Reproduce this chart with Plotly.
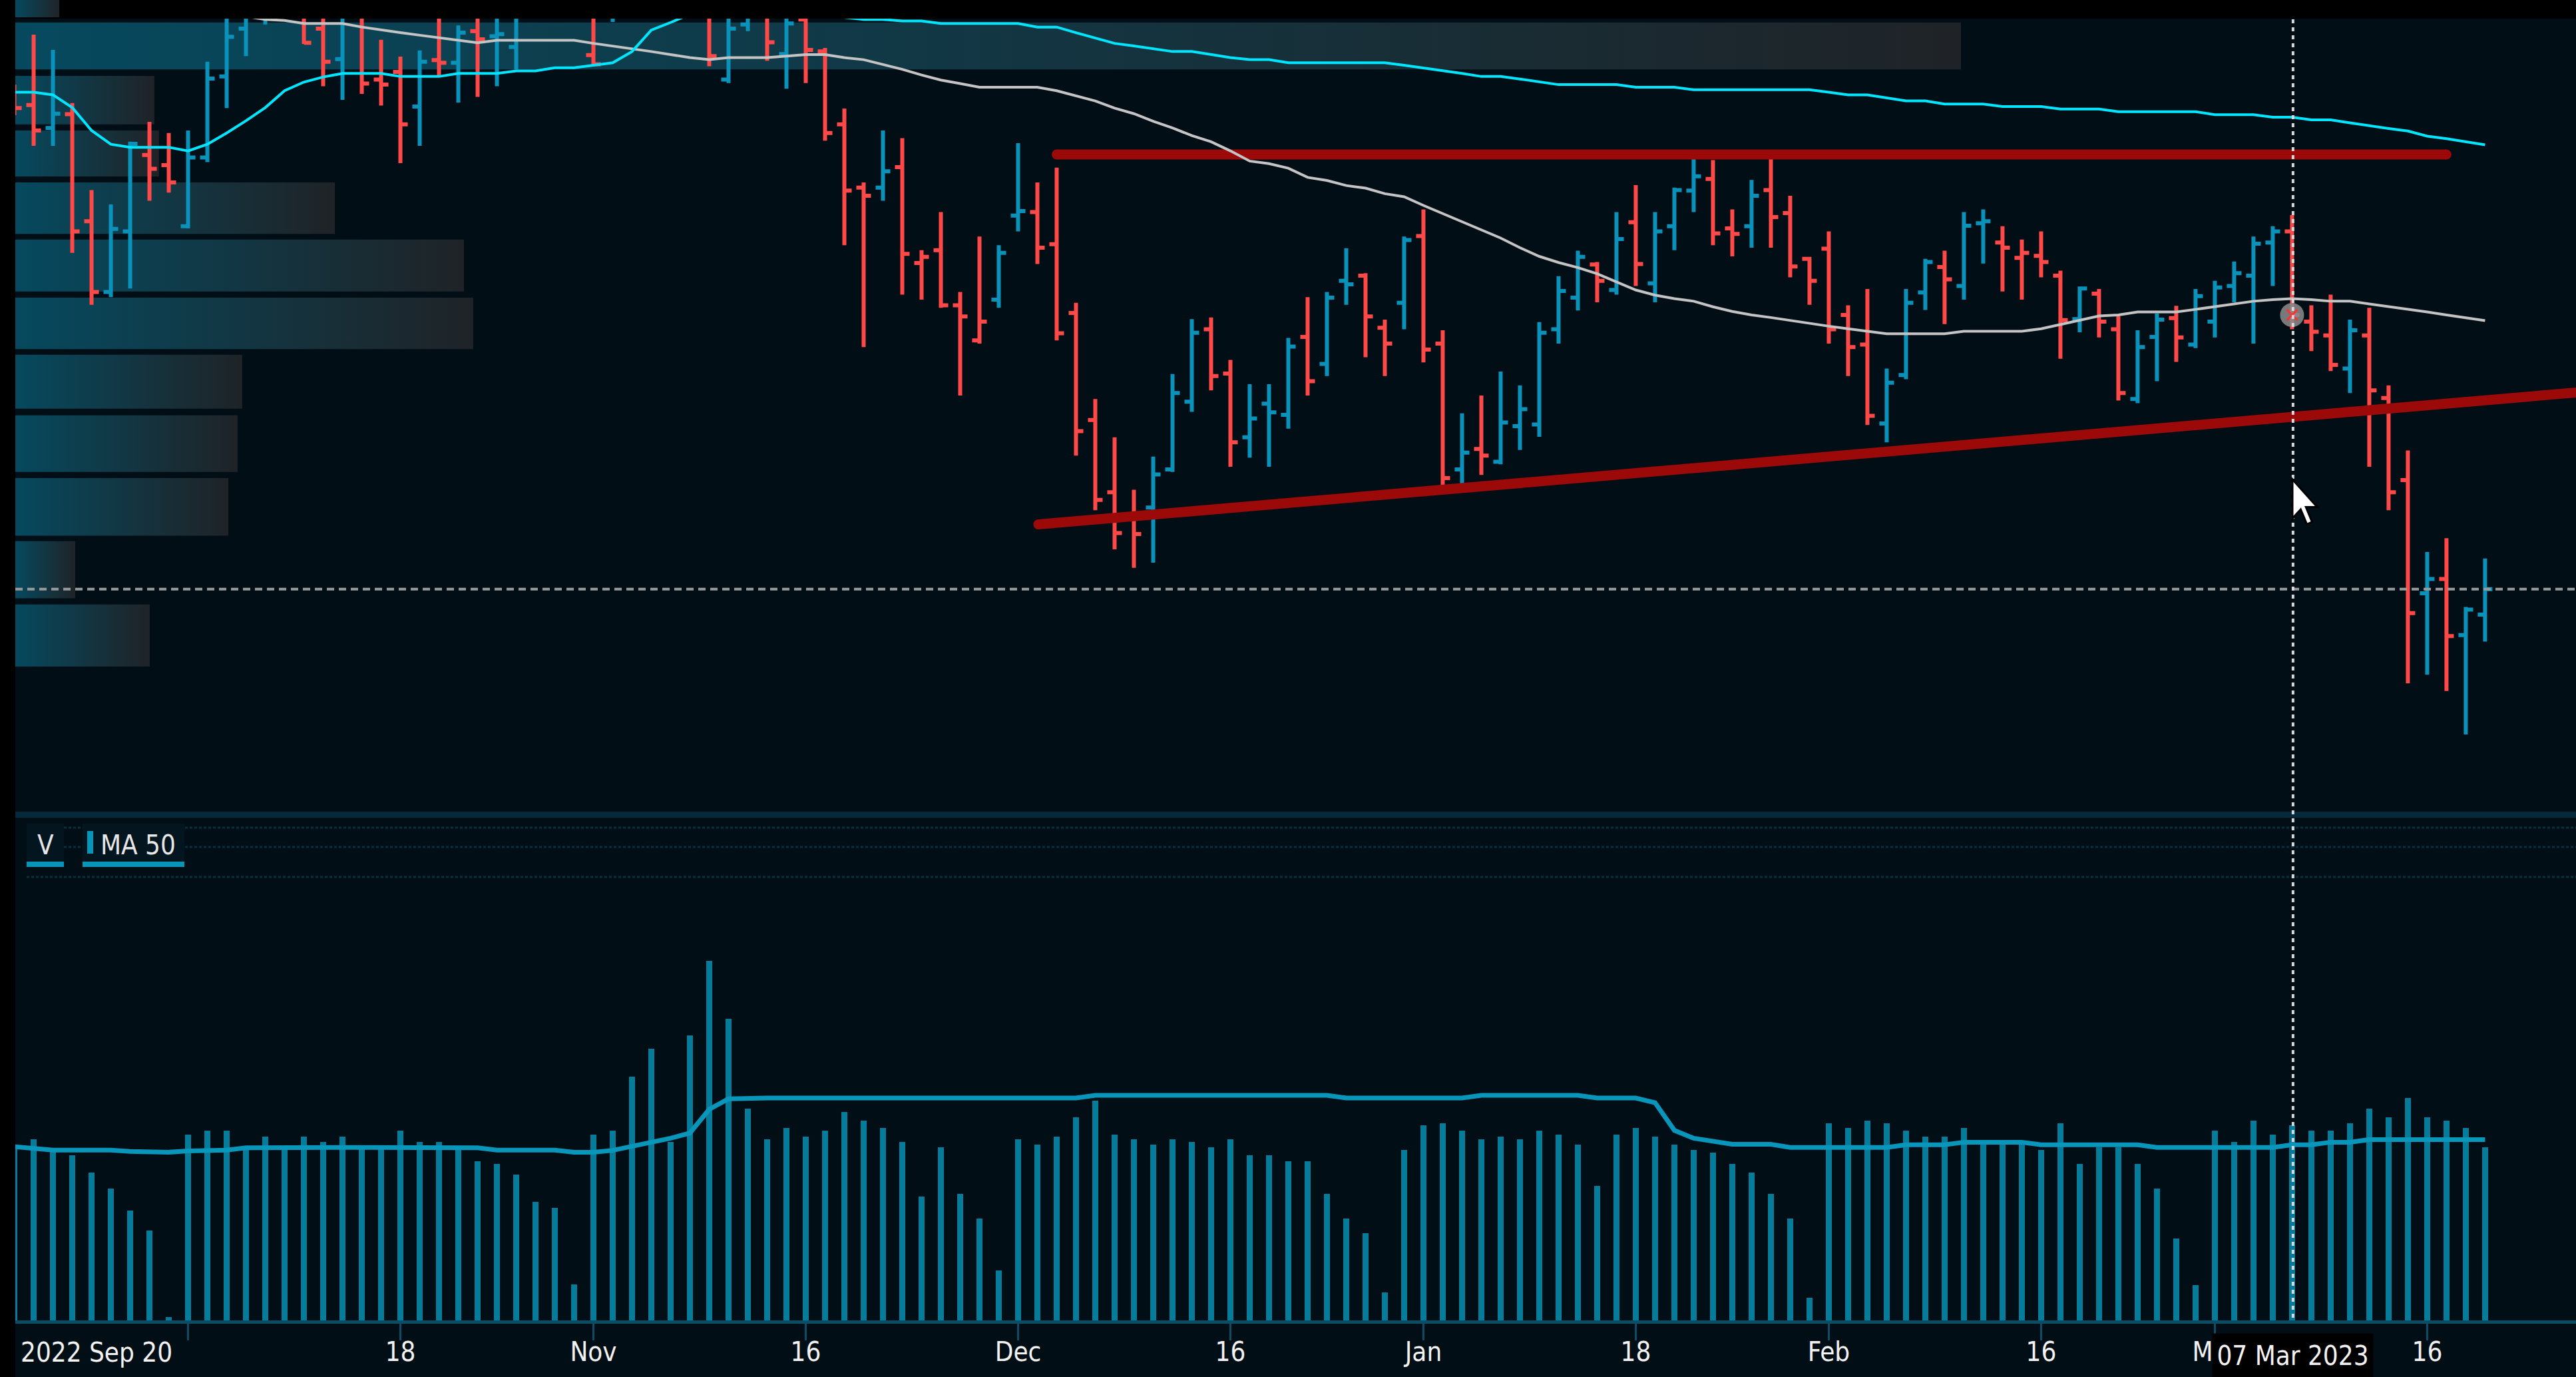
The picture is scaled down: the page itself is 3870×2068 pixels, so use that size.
import plotly.graph_objects as go

# ---------------- data ----------------
bar_idx = list(range(-1, 128))  # trading-day index, 0 = first full bar on screen

opens = [143.0, 142.0, 137.5, 140.2, 119.2, 105.3, 117.2, 132.2, 130.2, 118.2,
         131.7, 147.6, 157.0, 163.0, 167.0, 164.0, 157.0, 151.0, 161.0, 147.0,
         148.5, 141.7, 150.8, 150.3, 156.5, 155.5, 153.4, 162.0, 166.0, 165.0,
         151.8, 162.0, 164.0, 167.0, 169.0, 166.0, 162.0, 147.0, 157.8, 162.0,
         152.0, 158.8, 152.5, 138.2, 125.8, 125.8, 129.8, 111.0, 113.5, 102.7,
         95.8, 103.8, 120.3, 121.0, 114.7, 101.2, 80.2, 66.0, 61.2, 63.0,
         70.5, 83.8, 98.0, 89.3, 76.8, 83.4, 81.2, 96.5, 91.2, 107.5,
         108.5, 98.3, 103.2, 116.3, 95.2, 70.5, 74.5, 72.0, 79.0, 79.3,
         98.0, 104.2, 110.7, 105.7, 119.0, 107.0, 118.2, 125.2, 127.5, 117.8,
         118.2, 125.3, 120.8, 111.8, 113.8, 100.8, 95.0, 79.5, 89.0, 105.2,
         110.2, 106.5, 118.8, 115.0, 112.0, 112.4, 108.5, 100.0, 105.0, 98.0,
         84.3, 96.5, 100.2, 95.0, 99.5, 106.5, 108.5, 115.0, 117.2, 99.5,
         96.8, 90.3, 96.8, 84.5, 68.4, 46.2, 49.0, 38.0, 42.0]
highs = [146.0, 155.8, 152.8, 142.4, 125.3, 122.5, 134.8, 138.7, 136.5, 137.0,
         150.5, 159.0, 164.0, 168.0, 171.0, 167.0, 162.0, 163.0, 164.0, 154.8,
         151.5, 152.7, 162.0, 157.6, 162.0, 162.5, 164.0, 169.0, 170.0, 169.0,
         163.0, 166.0, 169.0, 171.0, 172.0, 170.0, 166.0, 164.0, 165.0, 165.0,
         163.0, 162.0, 153.2, 141.3, 126.8, 137.0, 135.5, 113.5, 121.0, 105.3,
         116.2, 114.5, 134.5, 126.8, 129.7, 103.2, 84.3, 76.8, 66.5, 73.0,
         89.2, 100.0, 100.3, 92.0, 87.2, 87.2, 96.3, 104.3, 105.3, 113.9,
         109.0, 99.9, 116.2, 121.5, 97.8, 81.5, 85.0, 89.7, 87.0, 99.4,
         108.4, 113.4, 111.2, 121.0, 126.3, 121.0, 125.8, 132.8, 131.2, 121.5,
         127.3, 132.2, 124.2, 112.2, 117.2, 102.7, 105.9, 90.3, 105.9, 111.8,
         113.4, 121.0, 121.5, 118.2, 115.6, 117.2, 109.5, 106.4, 105.9, 100.6,
         97.8, 101.1, 102.6, 105.9, 107.5, 111.3, 116.2, 118.2, 120.4, 102.7,
         104.8, 99.9, 102.2, 87.0, 74.2, 54.3, 57.0, 43.5, 53.0]
lows = [140.0, 134.0, 134.0, 113.0, 102.8, 104.3, 106.0, 123.2, 124.8, 117.8,
        130.8, 141.4, 151.6, 157.8, 162.0, 154.0, 145.7, 143.0, 144.2, 141.9,
        130.6, 134.0, 147.6, 142.5, 143.6, 145.7, 149.0, 160.5, 163.0, 161.5,
        149.6, 158.3, 160.5, 163.0, 164.0, 161.5, 149.6, 146.3, 156.5, 150.7,
        145.2, 146.3, 135.0, 114.5, 94.5, 123.2, 104.8, 103.8, 102.2, 85.0,
        95.2, 102.2, 117.2, 110.8, 95.8, 73.2, 62.5, 54.8, 51.2, 52.2,
        70.0, 81.8, 86.0, 71.0, 72.8, 71.0, 78.5, 85.0, 88.8, 102.8,
        92.5, 88.8, 98.0, 91.5, 67.2, 66.8, 69.4, 71.5, 74.3, 76.9,
        95.2, 101.7, 103.3, 104.8, 106.5, 103.3, 113.5, 121.0, 114.5, 112.3,
        114.0, 114.0, 108.2, 102.8, 95.2, 88.8, 79.2, 75.8, 88.2, 101.8,
        99.0, 103.8, 110.9, 105.4, 103.8, 108.2, 92.2, 97.4, 96.4, 84.0,
        83.5, 87.8, 91.6, 94.3, 96.4, 103.3, 95.2, 106.5, 98.0, 93.7,
        89.8, 85.5, 71.0, 62.5, 28.5, 30.2, 27.0, 18.5, 36.7]
closes = [141.4, 137.0, 140.3, 117.2, 105.3, 117.7, 134.4, 129.5, 126.8, 131.7,
          147.2, 155.4, 161.0, 166.0, 165.0, 154.2, 150.5, 159.5, 146.2, 146.0,
          138.2, 150.5, 150.3, 156.2, 154.9, 155.9, 160.0, 166.0, 165.0, 164.0,
          150.0, 164.0, 167.0, 169.0, 166.0, 163.0, 151.6, 157.0, 161.0, 154.3,
          158.0, 152.8, 136.5, 125.2, 124.2, 129.0, 112.8, 112.2, 102.7, 100.5,
          99.5, 113.0, 121.2, 114.0, 97.2, 78.0, 64.5, 58.0, 57.8, 69.5,
          85.5, 97.3, 88.8, 75.8, 80.5, 81.7, 94.6, 87.8, 104.2, 106.8,
          100.5, 95.2, 115.5, 94.0, 68.8, 73.8, 73.2, 79.7, 82.3, 97.3,
          105.5, 112.2, 107.5, 115.7, 110.8, 117.2, 125.3, 128.0, 116.8, 116.7,
          124.2, 120.0, 110.3, 107.5, 98.0, 94.5, 81.0, 87.5, 103.2, 111.2,
          107.8, 118.3, 119.2, 114.0, 113.0, 111.2, 99.8, 106.0, 99.5, 85.5,
          94.5, 99.9, 96.4, 104.5, 106.2, 109.0, 114.8, 117.2, 100.8, 97.5,
          91.0, 97.8, 86.0, 66.0, 42.3, 49.0, 37.8, 43.0, 47.0]

ma_cyan = [144.5, 144.5, 144.0, 141.5, 137.0, 134.3, 133.7, 133.7, 133.7, 133.0,
           134.3, 136.5, 138.9, 141.5, 144.8, 146.5, 147.5, 148.2, 148.2, 148.2,
           147.6, 147.6, 147.6, 148.2, 148.2, 148.2, 148.7, 148.7, 149.3, 149.3,
           149.8, 150.3, 152.5, 156.7, 158.2, 159.8, 160.6, 161.0, 161.2, 161.2,
           161.0, 160.6, 160.0, 159.2, 158.8, 158.8, 158.5, 158.5, 158.0, 158.0,
           158.0, 158.0, 158.0, 157.3, 157.3, 156.2, 155.2, 154.1, 153.6, 153.1,
           152.5, 152.5, 151.9, 151.3, 150.9, 150.9, 150.3, 150.3, 150.3, 150.3,
           150.3, 150.3, 149.8, 149.3, 148.8, 148.2, 147.6, 147.6, 147.1, 146.6,
           146.0, 146.0, 146.0, 146.0, 145.5, 145.5, 145.5, 145.0, 145.0, 145.0,
           145.0, 145.0, 145.0, 145.0, 144.5, 144.0, 144.0, 143.4, 142.8, 142.8,
           142.2, 142.2, 142.2, 141.7, 141.7, 141.7, 141.2, 141.2, 141.2, 140.7,
           140.7, 140.7, 140.7, 140.7, 140.1, 140.1, 140.1, 139.6, 139.6, 139.1,
           139.1, 138.5, 137.9, 137.4, 136.9, 135.9, 135.4, 134.8, 134.2]
ma_gray = [164.5, 164.0, 163.6, 163.2, 162.8, 162.4, 162.0, 161.6, 161.2, 160.8,
           160.4, 160.0, 159.4, 158.8, 158.6, 158.0, 158.0, 158.0, 157.3, 156.7,
           156.2, 155.7, 155.2, 154.6, 154.2, 154.7, 154.7, 154.7, 154.7, 154.7,
           154.1, 153.6, 153.1, 152.5, 151.9, 151.3, 150.9, 151.3, 151.3, 151.3,
           151.6, 151.9, 151.9, 151.3, 150.9, 150.0, 149.0, 147.9, 146.9, 146.2,
           145.5, 145.5, 145.5, 145.5, 144.8, 143.8, 142.8, 141.4, 140.3, 138.8,
           137.5, 136.0, 134.8, 133.0, 131.0, 130.5, 129.6, 127.8, 127.2, 126.2,
           125.7, 124.6, 124.0, 122.3, 120.7, 119.0, 117.5, 115.9, 114.0, 112.3,
           111.1, 110.1, 108.9, 107.3, 105.7, 104.7, 104.0, 103.5, 102.4, 101.5,
           100.8, 100.3, 99.7, 99.2, 98.6, 98.1, 97.6, 97.1, 97.1, 97.1,
           97.1, 97.6, 97.6, 97.6, 97.6, 98.1, 98.9, 99.7, 100.6, 100.8,
           101.4, 101.4, 101.4, 101.9, 102.4, 103.0, 103.5, 103.8, 104.0, 103.8,
           103.5, 103.5, 103.0, 102.4, 101.9, 101.4, 100.8, 100.3, 99.7]

volumes = [66.2, 68.7, 64.2, 62.7, 56.2, 50.0, 41.7, 34.2, 1.2, 70.7,
           72.0, 72.0, 65.2, 69.7, 65.2, 69.7, 67.7, 69.7, 65.2, 65.2,
           72.0, 67.7, 67.7, 65.2, 60.4, 59.4, 55.4, 45.0, 42.7, 13.7,
           70.7, 72.0, 92.7, 103.2, 67.7, 108.4, 136.5, 114.5, 80.4, 68.7,
           73.0, 69.7, 72.0, 79.2, 76.0, 73.0, 67.7, 47.0, 65.7, 48.0,
           38.7, 19.0, 68.7, 66.7, 69.7, 77.2, 83.4, 70.7, 68.7, 66.7,
           68.7, 67.7, 65.7, 68.7, 62.7, 62.7, 60.4, 60.4, 48.0, 38.7,
           33.2, 10.7, 64.7, 74.0, 75.0, 72.0, 68.7, 69.7, 68.7, 72.0,
           70.7, 66.7, 51.0, 70.7, 73.0, 69.7, 66.7, 64.7, 63.7, 59.4,
           56.2, 48.0, 38.7, 8.5, 75.0, 73.0, 76.0, 75.0, 72.0, 69.7,
           69.7, 73.0, 66.7, 66.7, 66.7, 64.7, 75.0, 59.4, 65.7, 65.7,
           59.4, 50.0, 31.2, 13.5, 72.0, 67.7, 76.0, 70.7, 74.0, 72.0,
           72.0, 75.0, 80.4, 77.2, 84.4, 77.2, 76.0, 73.0, 65.7]
vol_ma50 = [66.0, 65.2, 64.7, 64.7, 64.7, 64.7, 64.2, 63.9, 63.9, 64.4,
            64.7, 64.7, 65.6, 65.7, 65.7, 65.7, 65.7, 65.7, 65.7, 65.7,
            65.7, 65.7, 65.7, 65.7, 65.6, 64.7, 64.7, 64.7, 64.7, 63.9,
            63.9, 64.6, 66.0, 67.7, 69.2, 71.2, 80.2, 84.2, 84.5, 84.5,
            84.5, 84.5, 84.5, 84.5, 84.5, 84.5, 84.5, 84.5, 84.5, 84.5,
            84.5, 84.5, 84.5, 84.5, 84.5, 84.5, 85.5, 85.5, 85.5, 85.5,
            85.5, 85.5, 85.5, 85.5, 85.5, 85.5, 85.5, 85.5, 85.5, 84.5,
            84.5, 84.5, 84.5, 84.5, 84.5, 84.5, 85.5, 85.5, 85.5, 85.5,
            85.5, 85.5, 84.5, 84.5, 84.5, 82.7, 72.2, 69.2, 67.9, 66.9,
            66.9, 66.9, 65.7, 65.7, 65.7, 65.7, 65.7, 65.7, 66.7, 66.7,
            66.7, 67.7, 67.7, 67.7, 67.7, 66.7, 66.7, 66.7, 66.7, 66.7,
            66.7, 65.7, 65.7, 65.7, 65.7, 65.7, 65.7, 65.7, 66.7, 66.7,
            67.7, 67.7, 68.7, 68.7, 68.7, 68.7, 68.7, 68.7, 68.7]

# volume-by-price profile (price bin edges, volume share in % of panel width)
profile_lo = [159.2, 149.0, 138.2, 128.0, 116.7, 105.4, 94.1, 82.4, 70.0, 57.5, 45.2, 31.8]
profile_hi = [169.5, 158.2, 147.7, 137.0, 126.8, 115.6, 104.2, 93.0, 81.1, 68.8, 56.4, 44.0]
profile_vol = [1.72, 75.98, 5.43, 5.61, 12.48, 17.52, 17.88, 8.86, 8.68, 8.32, 2.34, 5.25]

tick_idx = [8, 19, 29, 40, 51, 62, 72, 83, 93, 104, 113, 124]
tick_text = ['', '18', 'Nov', '16', 'Dec', '16', 'Jan', '18', 'Feb', '16', 'Mar', '16']
first_label = '2022 Sep 20'

trend_flat_x = [53.0, 125.0]
trend_flat_y = [132.3, 132.3]
trend_rise_x = [52.05, 135.0]
trend_rise_y = [59.7, 86.66]

cross_idx = 117
cross_label = '07 Mar 2023'

# ---------------- style ----------------
W, H = 3870, 2068
ML = 23
PW = W - ML
NAVY = '#020e15'
UP = '#0a92ba'
DOWN = '#ff4848'
AXC = '#0a4d64'
FONT = 'DejaVu Sans Condensed, Liberation Sans Narrow, Arial Narrow, sans-serif'
FS = 40


def px_x(p):
    return (p - ML) / PW


def px_y(p):
    return (H - p) / H


PRICE_TOP, PRICE_BOT = px_y(28), px_y(1218)
VOL_TOP, VOL_BOT = px_y(1228), px_y(1983)
XR = [-0.95, 131.71]

fig = go.Figure()

# volume profile (subplot x/y, drawn first)
for lo, hi, v in zip(profile_lo, profile_hi, profile_vol):
    fig.add_trace(go.Scatter(
        x=[0, v, v, 0, 0], y=[lo, lo, hi, hi, lo], mode='lines', fill='toself',
        line=dict(width=0), fillcolor='#07485c',
        fillgradient=dict(type='horizontal', colorscale=[[0, '#06495e'], [1, '#1f2327']]),
        xaxis='x', yaxis='y', hoverinfo='skip'))

# trend lines
for tx, ty in ((trend_flat_x, trend_flat_y), (trend_rise_x, trend_rise_y)):
    fig.add_trace(go.Scatter(x=tx, y=ty, mode='lines+markers',
                             line=dict(color='#9c0909', width=15),
                             marker=dict(color='#9c0909', size=15),
                             xaxis='x2', yaxis='y2', hoverinfo='skip'))

# OHLC bars, coloured by close vs previous close
up_mask = []
for k, c in enumerate(closes):
    prev = closes[k - 1] if k > 0 else opens[0]
    up_mask.append(c >= prev)
for want, col in ((True, UP), (False, DOWN)):
    sel = [k for k, m in enumerate(up_mask) if m == want]
    fig.add_trace(go.Ohlc(
        x=[bar_idx[k] for k in sel], open=[opens[k] for k in sel],
        high=[highs[k] for k in sel], low=[lows[k] for k in sel],
        close=[closes[k] for k in sel], tickwidth=0.38,
        increasing=dict(line=dict(color=col, width=6)),
        decreasing=dict(line=dict(color=col, width=6)),
        xaxis='x2', yaxis='y2', hoverinfo='skip'))

# moving averages
fig.add_trace(go.Scatter(x=bar_idx, y=ma_gray, mode='lines', line=dict(color='#c4c4c4', width=4),
                         xaxis='x2', yaxis='y2', hoverinfo='skip'))
fig.add_trace(go.Scatter(x=bar_idx, y=ma_cyan, mode='lines', line=dict(color='#00e6ff', width=4),
                         xaxis='x2', yaxis='y2', hoverinfo='skip'))

# crosshair marker
ci = bar_idx.index(cross_idx)
fig.add_trace(go.Scatter(x=[cross_idx], y=[closes[ci]], mode='markers',
                         marker=dict(size=36, color='rgba(140,140,140,0.85)', line=dict(width=0)),
                         xaxis='x2', yaxis='y2', hoverinfo='skip'))
fig.add_trace(go.Scatter(x=[cross_idx], y=[closes[ci]], mode='markers',
                         marker=dict(size=16, symbol='x-thin', line=dict(color='#ff3030', width=3)),
                         xaxis='x2', yaxis='y2', hoverinfo='skip'))

# volume
fig.add_trace(go.Bar(x=bar_idx, y=volumes, width=0.33, marker=dict(color='#067c9b', line=dict(width=0)),
                     xaxis='x3', yaxis='y3', hoverinfo='skip'))
fig.add_trace(go.Scatter(x=bar_idx, y=vol_ma50, mode='lines', line=dict(color='#0896bb', width=7),
                         xaxis='x3', yaxis='y3', hoverinfo='skip'))

shapes = []
# black frame strips (top / left)
shapes.append(dict(type='rect', xref='paper', yref='paper', x0=px_x(0), x1=1.01, y0=PRICE_TOP, y1=1.0,
                   fillcolor='#000000', line=dict(width=0), layer='below'))
shapes.append(dict(type='rect', xref='paper', yref='paper', x0=px_x(0), x1=0, y0=0, y1=1.0,
                   fillcolor='#000000', line=dict(width=0), layer='below'))
# separator between panels
shapes.append(dict(type='rect', xref='paper', yref='paper', x0=0, x1=1, y0=px_y(1228), y1=px_y(1219),
                   fillcolor='#022a3a', line=dict(width=0), layer='below'))
# dotted guide lines in volume pane
for yy in (1243, 1272, 1317):
    shapes.append(dict(type='line', xref='paper', yref='paper', x0=px_x(40), x1=1, y0=px_y(yy), y1=px_y(yy),
                       line=dict(color='#06303f', width=3, dash='4px,3px'), layer='below'))
# legend boxes
for x0, x1 in ((40, 96), (124, 277)):
    shapes.append(dict(type='rect', xref='paper', yref='paper', x0=px_x(x0), x1=px_x(x1),
                       y0=px_y(1302), y1=px_y(1237), fillcolor='#03151e', line=dict(width=0), layer='below'))
    shapes.append(dict(type='rect', xref='paper', yref='paper', x0=px_x(x0), x1=px_x(x1),
                       y0=px_y(1302), y1=px_y(1294), fillcolor='#0895b8', line=dict(width=0), layer='below'))
shapes.append(dict(type='rect', xref='paper', yref='paper', x0=px_x(131), x1=px_x(140),
                   y0=px_y(1282), y1=px_y(1248), fillcolor='#0895b8', line=dict(width=0), layer='below'))
# last price dashed line
shapes.append(dict(type='line', xref='paper', yref='y2', x0=0, x1=1, y0=closes[-1], y1=closes[-1],
                   line=dict(color='#9a9a9a', width=4, dash='11px,7px'), layer='above'))
# vertical crosshair
shapes.append(dict(type='line', xref='x2', yref='paper', x0=cross_idx + 0.05, x1=cross_idx + 0.05,
                   y0=px_y(1979), y1=PRICE_TOP, line=dict(color='#d8d8d8', width=4, dash='6px,6px'),
                   layer='above'))
# mouse pointer captured in the screenshot
tip_x, tip_y = 3444, 720
arrow = [(0, 0), (0, 58.6), (12.4, 44.9), (21.7, 67.3), (29.5, 63.8), (20.2, 41.4), (37.2, 41.4)]
path = 'M ' + ' L '.join(f'{px_x(tip_x + dx):.6f},{px_y(tip_y + dy):.6f}' for dx, dy in arrow) + ' Z'
shapes.append(dict(type='path', xref='paper', yref='paper', path=path, fillcolor='#ffffff',
                   line=dict(color='#000000', width=3), layer='above'))

annotations = [
    dict(xref='paper', yref='paper', x=px_x(145), y=px_y(2031), text=first_label, showarrow=False,
         font=dict(family=FONT, size=FS, color='#f2f2f2'), xanchor='center', yanchor='middle'),
    dict(xref='x3', yref='paper', x=cross_idx + 0.05, y=px_y(2002), text=cross_label, showarrow=False,
         font=dict(family=FONT, size=FS, color='#f2f2f2'), xanchor='center', yanchor='top',
         bgcolor='#000000', width=241, height=66, borderpad=0),
    dict(xref='paper', yref='paper', x=px_x(68), y=px_y(1269), text='V', showarrow=False,
         font=dict(family=FONT, size=FS, color='#e6e6e6'), xanchor='center', yanchor='middle'),
    dict(xref='paper', yref='paper', x=px_x(207), y=px_y(1269), text='MA 50', showarrow=False,
         font=dict(family=FONT, size=FS, color='#e6e6e6'), xanchor='center', yanchor='middle'),
]

hidden = dict(visible=False, showgrid=False, zeroline=False, fixedrange=True)
fig.update_layout(
    width=W, height=H, margin=dict(l=ML, r=0, t=0, b=0),
    paper_bgcolor=NAVY, plot_bgcolor='rgba(0,0,0,0)', showlegend=False,
    xaxis=dict(hidden, domain=[0, 1], range=[0, 100], anchor='y'),
    yaxis=dict(hidden, domain=[PRICE_BOT, 1.0], range=[3.46, 162.61], anchor='x'),
    xaxis2=dict(hidden, domain=[0, 1], range=XR, anchor='y2', rangeslider=dict(visible=False)),
    yaxis2=dict(hidden, domain=[PRICE_BOT, PRICE_TOP], range=[3.46, 158.95], anchor='x2'),
    xaxis3=dict(domain=[0, 1], range=XR, anchor='y3', showgrid=False, zeroline=False,
                tickmode='array', tickvals=tick_idx, ticktext=tick_text,
                ticks='outside', ticklen=25, tickwidth=3, tickcolor=AXC,
                showline=True, linecolor=AXC, linewidth=5, ticklabelstandoff=-17,
                tickfont=dict(family=FONT, size=FS, color='#f2f2f2'), automargin=False),
    yaxis3=dict(hidden, domain=[VOL_BOT, VOL_TOP], range=[0, 191], anchor='x3'),
    shapes=shapes, annotations=annotations, bargap=0,
)

fig.write_html('out.html', config={'displayModeBar': False, 'staticPlot': True},
               post_script="document.body.style.margin='0px';document.body.style.padding='0px';"
                           "document.body.style.overflow='hidden';document.body.style.background='#000';")
